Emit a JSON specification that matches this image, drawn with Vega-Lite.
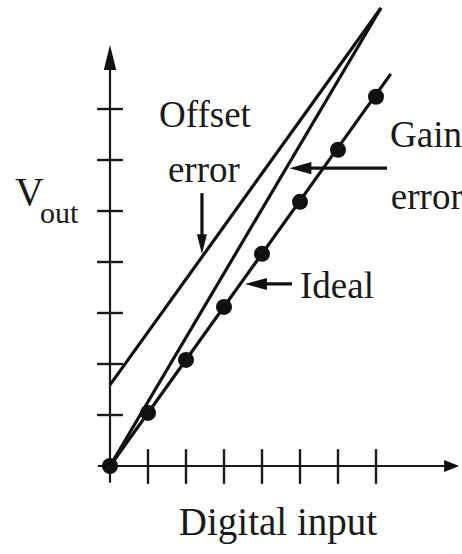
{
  "$schema": "https://vega.github.io/schema/vega-lite/v6.json",
  "width": 348,
  "height": 419,
  "autosize": "none",
  "padding": {"left": 110, "top": 47, "right": 4, "bottom": 88},
  "background": "white",
  "config": {"view": {"stroke": null}},
  "datasets": {
    "axes": [
      {"x": 0, "y": -0.33, "x2": 0, "y2": 8.0},
      {"x": -0.32, "y": 0, "x2": 8.95, "y2": 0}
    ],
    "ticks": [
      {"x": 1, "y": -0.35, "x2": 1, "y2": 0.33},
      {"x": 2, "y": -0.35, "x2": 2, "y2": 0.33},
      {"x": 3, "y": -0.35, "x2": 3, "y2": 0.33},
      {"x": 4, "y": -0.35, "x2": 4, "y2": 0.33},
      {"x": 5, "y": -0.35, "x2": 5, "y2": 0.33},
      {"x": 6, "y": -0.35, "x2": 6, "y2": 0.33},
      {"x": 7, "y": -0.35, "x2": 7, "y2": 0.33},
      {"x": -0.34, "y": 1, "x2": 0.34, "y2": 1},
      {"x": -0.34, "y": 2, "x2": 0.34, "y2": 2},
      {"x": -0.34, "y": 3, "x2": 0.34, "y2": 3},
      {"x": -0.34, "y": 4, "x2": 0.34, "y2": 4},
      {"x": -0.34, "y": 5, "x2": 0.34, "y2": 5},
      {"x": -0.34, "y": 6, "x2": 0.34, "y2": 6},
      {"x": -0.34, "y": 7, "x2": 0.34, "y2": 7}
    ],
    "transfer": [
      {"series": "Ideal", "x": 0, "y": 0},
      {"series": "Ideal", "x": 7.39, "y": 7.69},
      {"series": "Gain error", "x": 0, "y": 0},
      {"series": "Gain error", "x": 7.13, "y": 8.98},
      {"series": "Offset error", "x": 0, "y": 1.59},
      {"series": "Offset error", "x": 7.13, "y": 8.98}
    ],
    "codes": [
      {"x": 0, "y": 0},
      {"x": 1, "y": 1.04},
      {"x": 2, "y": 2.08},
      {"x": 3, "y": 3.12},
      {"x": 4, "y": 4.16},
      {"x": 5, "y": 5.18},
      {"x": 6, "y": 6.2},
      {"x": 7, "y": 7.24}
    ],
    "pointers": [
      {"x": 2.42, "y": 5.35, "x2": 2.42, "y2": 4.4},
      {"x": 7.29, "y": 5.84, "x2": 5.0, "y2": 5.84},
      {"x": 4.79, "y": 3.57, "x2": 3.85, "y2": 3.57}
    ],
    "headUp": [{"x": 0, "y": 8.01}],
    "headRight": [{"x": 8.99, "y": 0}],
    "headDown": [{"x": 2.42, "y": 4.35}],
    "headLeft": [{"x": 5.01, "y": 5.84}, {"x": 3.84, "y": 3.57}],
    "labelsCenter": [
      {"text": "Offset", "x": 2.5, "y": 6.65},
      {"text": "error", "x": 2.47, "y": 5.57}
    ],
    "labelsLeft": [
      {"text": "Gain", "x": 7.37, "y": 6.25},
      {"text": "error", "x": 7.39, "y": 5.04},
      {"text": "Ideal", "x": 5.0, "y": 3.29}
    ],
    "vLabel": [{"text": "V", "x": -2.5, "y": 5.12}],
    "subLabel": [{"text": "out", "x": -1.84, "y": 4.76}],
    "xTitle": [{"text": "Digital input", "x": 4.42, "y": -1.35}]
  },
  "encoding": {
    "x": {"field": "x", "type": "quantitative", "scale": {"domain": [0, 9.158], "nice": false, "zero": false}, "axis": null},
    "y": {"field": "y", "type": "quantitative", "scale": {"domain": [0, 8.216], "nice": false, "zero": false}, "axis": null}
  },
  "layer": [
    {
      "data": {"name": "axes"},
      "mark": {"type": "rule", "color": "#1a1a1a", "strokeWidth": 2.2},
      "encoding": {"x2": {"field": "x2"}, "y2": {"field": "y2"}}
    },
    {
      "data": {"name": "ticks"},
      "mark": {"type": "rule", "color": "#1a1a1a", "strokeWidth": 2.4},
      "encoding": {"x2": {"field": "x2"}, "y2": {"field": "y2"}}
    },
    {
      "data": {"name": "transfer"},
      "mark": {"type": "line", "color": "#111", "strokeWidth": 3.2},
      "encoding": {"detail": {"field": "series"}}
    },
    {
      "data": {"name": "codes"},
      "mark": {"type": "circle", "color": "#111", "opacity": 1, "size": 256}
    },
    {
      "data": {"name": "pointers"},
      "mark": {"type": "rule", "color": "#111", "strokeWidth": 3.2},
      "encoding": {"x2": {"field": "x2"}, "y2": {"field": "y2"}}
    },
    {
      "data": {"name": "headUp"},
      "mark": {"type": "point", "shape": "M0,-1L0.5,1L-0.5,1Z", "filled": true, "opacity": 1, "color": "#111", "size": 625, "angle": 0}
    },
    {
      "data": {"name": "headRight"},
      "mark": {"type": "point", "shape": "M0,-1L0.8,1L-0.8,1Z", "filled": true, "opacity": 1, "color": "#111", "size": 225, "angle": 90}
    },
    {
      "data": {"name": "headDown"},
      "mark": {"type": "point", "shape": "M0,-1L0.5,1L-0.5,1Z", "filled": true, "opacity": 1, "color": "#111", "size": 400, "angle": 180}
    },
    {
      "data": {"name": "headLeft"},
      "mark": {"type": "point", "shape": "M0,-1L0.55,1L-0.55,1Z", "filled": true, "opacity": 1, "color": "#111", "size": 484, "angle": 270}
    },
    {
      "data": {"name": "labelsCenter"},
      "mark": {"type": "text", "font": "Liberation Serif", "fontSize": 37, "align": "center", "baseline": "alphabetic", "color": "#1a1a1a"},
      "encoding": {"text": {"field": "text"}}
    },
    {
      "data": {"name": "labelsLeft"},
      "mark": {"type": "text", "font": "Liberation Serif", "fontSize": 37, "align": "left", "baseline": "alphabetic", "color": "#1a1a1a"},
      "encoding": {"text": {"field": "text"}}
    },
    {
      "data": {"name": "vLabel"},
      "mark": {"type": "text", "font": "Liberation Serif", "fontSize": 40, "align": "left", "baseline": "alphabetic", "color": "#1a1a1a"},
      "encoding": {"text": {"field": "text"}}
    },
    {
      "data": {"name": "subLabel"},
      "mark": {"type": "text", "font": "Liberation Serif", "fontSize": 30, "align": "left", "baseline": "alphabetic", "color": "#1a1a1a"},
      "encoding": {"text": {"field": "text"}}
    },
    {
      "data": {"name": "xTitle"},
      "mark": {"type": "text", "font": "Liberation Serif", "fontSize": 39, "align": "center", "baseline": "alphabetic", "color": "#1a1a1a"},
      "encoding": {"text": {"field": "text"}}
    }
  ]
}
